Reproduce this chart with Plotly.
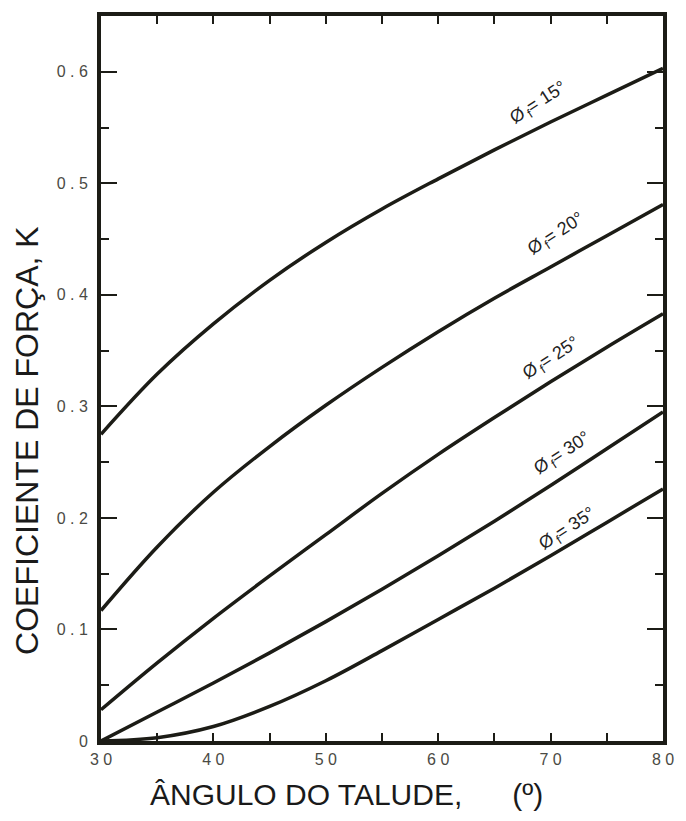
import plotly.graph_objects as go

# Data
theta = [30, 35, 40, 45, 50, 55, 60, 65, 70, 75, 80]
k_phi15 = [0.275, 0.329, 0.374, 0.413, 0.447, 0.477, 0.504, 0.530, 0.555, 0.579, 0.603]
k_phi20 = [0.117, 0.174, 0.223, 0.264, 0.301, 0.335, 0.367, 0.397, 0.425, 0.453, 0.481]
k_phi25 = [0.028, 0.070, 0.110, 0.148, 0.185, 0.222, 0.257, 0.290, 0.322, 0.353, 0.383]
k_phi30 = [0.000, 0.026, 0.052, 0.079, 0.107, 0.136, 0.166, 0.197, 0.229, 0.262, 0.295]
k_phi35 = [0.000, 0.003, 0.013, 0.031, 0.054, 0.081, 0.109, 0.137, 0.166, 0.196, 0.226]

series = [k_phi15, k_phi20, k_phi25, k_phi30, k_phi35]
phi_labels = ["15°", "20°", "25°", "30°", "35°"]
label_x = [68.9, 70.5, 70.1, 71.1, 71.5]
label_y = [0.572, 0.454, 0.343, 0.258, 0.190]

x_tickvals = [30, 40, 50, 60, 70, 80]
x_ticktext = ["3 0", "4 0", "5 0", "6 0", "7 0", "8 0"]
y_tickvals = [0, 0.1, 0.2, 0.3, 0.4, 0.5, 0.6]
y_ticktext = ["0", "0 . 1", "0 . 2", "0 . 3", "0 . 4", "0 . 5", "0 . 6"]

INK = "#1c1c16"
FONT = "Liberation Sans, Arial, sans-serif"

W, H = 686, 821
ml, mr, mt, mb = 101, 15, 14, 80
pw, ph = W - ml - mr, H - mt - mb


def px_to_paper(px, py):
    return (px - ml) / pw, 1 - (py - mt) / ph


fig = go.Figure()
for ys in series:
    fig.add_trace(go.Scatter(x=theta, y=ys, mode="lines",
                             line=dict(color=INK, width=3.5, shape="spline", smoothing=1.0),
                             showlegend=False, hoverinfo="skip"))

for lx, ly, lab in zip(label_x, label_y, phi_labels):
    fig.add_annotation(x=lx, y=ly, xref="x", yref="y", showarrow=False,
                       text="Ø<sub>\u2009f</sub>= " + lab,
                       textangle=-33, xanchor="center", yanchor="middle",
                       font=dict(family=FONT, size=18, color="#222"))

yx, yy = px_to_paper(26, 440)
fig.add_annotation(x=yx, y=yy, xref="paper", yref="paper", showarrow=False,
                   xanchor="center", yanchor="middle",
                   text="COEFICIENTE DE FORÇA, K", textangle=-90,
                   font=dict(family=FONT, size=32, color="#1a1a1a"))
tx, ty = px_to_paper(350, 795)
fig.add_annotation(x=tx, y=ty, xref="paper", yref="paper", showarrow=False,
                   xanchor="center", yanchor="middle",
                   text="ÂNGULO DO TALUDE," + "\u00a0" * 6 + "(º)",
                   font=dict(family=FONT, size=30, color="#1a1a1a"))

tickfont = dict(family=FONT, size=16, color="#4a4a44")
fig.update_layout(
    width=W, height=H,
    margin=dict(l=ml, r=mr, t=mt, b=mb),
    paper_bgcolor="white", plot_bgcolor="white",
    xaxis=dict(range=[30, 80], tickvals=x_tickvals, ticktext=x_ticktext,
               ticks="inside", ticklen=8, tickwidth=2, tickcolor=INK,
               minor=dict(dtick=5, tick0=30, ticks="inside", ticklen=8, tickwidth=2, tickcolor=INK, showgrid=False),
               showline=True, linewidth=4, linecolor=INK, mirror="ticks",
               showgrid=False, zeroline=False, tickfont=tickfont, ticklabelstandoff=1),
    yaxis=dict(range=[0, 0.65], tickvals=y_tickvals, ticktext=y_ticktext,
               ticks="inside", ticklen=16, tickwidth=2, tickcolor=INK,
               minor=dict(dtick=0.05, tick0=0, ticks="inside", ticklen=8, tickwidth=2, tickcolor=INK, showgrid=False),
               showline=True, linewidth=4, linecolor=INK, mirror="ticks",
               showgrid=False, zeroline=False, tickfont=tickfont, ticklabelstandoff=6),
)

fig.write_html("out.html", config={"displayModeBar": False},
               post_script="document.body.style.margin='0';document.body.style.overflow='hidden';")
